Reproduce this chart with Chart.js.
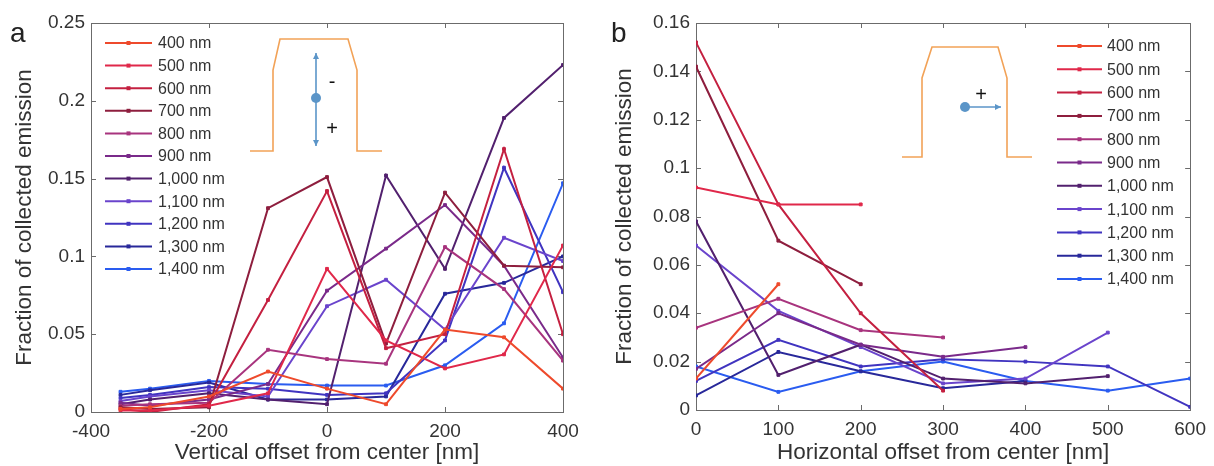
<!DOCTYPE html>
<html>
<head>
<meta charset="utf-8">
<script src="https://cdn.jsdelivr.net/npm/chart.js@4"></script>
<style>
  html, body { margin: 0; padding: 0; background: #fff; }
  #wrap { position: relative; width: 1214px; height: 466px; }
  #chartA { position: absolute; left: 0; top: 0; }
  #chartB { position: absolute; left: 600px; top: 0; }
</style>
</head>
<body>
<div id="wrap">
  <canvas id="chartA" width="600" height="466"></canvas>
  <canvas id="chartB" width="614" height="466"></canvas>
</div>
<script>
// --- DATA ---
const wavelengths = ['400 nm', '500 nm', '600 nm', '700 nm', '800 nm', '900 nm',
  '1,000 nm', '1,100 nm', '1,200 nm', '1,300 nm', '1,400 nm'];
const colors = ['#ee4a2c', '#e0284a', '#c42040', '#8e1e3e', '#a8347e', '#7a2a8a',
  '#52206e', '#6a44cc', '#4034c0', '#28289a', '#2a5cf0'];

// panel a: vertical offset
const xA = [-350, -300, -200, -100, 0, 100, 200, 300, 400];
const valuesA = [
  [0.002, 0.003, 0.010, 0.026, 0.015, 0.005, 0.053, 0.048, 0.015],
  [0.001, 0.001, 0.004, 0.012, 0.092, 0.046, 0.028, 0.037, 0.107],
  [0.002, 0.000, 0.005, 0.072, 0.142, 0.041, 0.050, 0.169, 0.050],
  [0.003, 0.002, 0.003, 0.131, 0.151, 0.044, 0.141, 0.094, 0.093],
  [0.004, 0.005, 0.006, 0.040, 0.034, 0.031, 0.106, 0.079, 0.033],
  [0.006, 0.004, 0.008, 0.018, 0.078, 0.105, 0.133, 0.094, 0.035],
  [0.005, 0.008, 0.012, 0.008, 0.005, 0.152, 0.092, 0.189, 0.223],
  [0.007, 0.010, 0.014, 0.010, 0.068, 0.085, 0.053, 0.112, 0.097],
  [0.009, 0.011, 0.016, 0.015, 0.011, 0.012, 0.046, 0.157, 0.077],
  [0.011, 0.014, 0.019, 0.008, 0.008, 0.010, 0.076, 0.083, 0.100],
  [0.013, 0.015, 0.020, 0.018, 0.017, 0.017, 0.030, 0.057, 0.147]
];
const xTicksA = [-400, -200, 0, 200, 400];
const yTicksA = [0, 0.05, 0.1, 0.15, 0.2, 0.25];

// panel b: horizontal offset (series stop at different offsets)
const xB = [0, 100, 200, 300, 400, 500, 600];
const valuesB = [
  [0.013, 0.052],
  [0.092, 0.085, 0.085],
  [0.152, 0.085, 0.040, 0.008],
  [0.142, 0.070, 0.052],
  [0.034, 0.046, 0.033, 0.030],
  [0.017, 0.040, 0.027, 0.022, 0.026],
  [0.078, 0.0145, 0.027, 0.013, 0.011, 0.014],
  [0.068, 0.041, 0.026, 0.011, 0.013, 0.032],
  [0.012, 0.029, 0.018, 0.021, 0.020, 0.018, 0.0013],
  [0.006, 0.024, 0.016, 0.009, 0.012],
  [0.018, 0.0075, 0.016, 0.020, 0.012, 0.008, 0.013]
];
const xTicksB = [0, 100, 200, 300, 400, 500, 600];
const yTicksB = [0, 0.02, 0.04, 0.06, 0.08, 0.1, 0.12, 0.14, 0.16];

const FONT = 'Liberation Sans, Arial, sans-serif';

function buildDatasets(xs, values) {
  return values.map((vals, i) => ({
    label: wavelengths[i],
    data: vals.map((v, j) => ({ x: xs[j], y: v })),
    borderColor: colors[i],
    backgroundColor: colors[i],
    borderWidth: 2,
    pointStyle: 'rect',
    pointRadius: 2,
    pointBorderWidth: 1,
    tension: 0
  }));
}

// MATLAB-like box with inward ticks
const boxPlugin = {
  id: 'box',
  beforeDatasetsDraw(chart) {
    const { ctx, chartArea: a, scales } = chart;
    ctx.save();
    ctx.strokeStyle = '#6b6b6b';
    ctx.lineWidth = 1;
    ctx.strokeRect(Math.round(a.left) + 0.5, Math.round(a.top) + 0.5,
      Math.round(a.right - a.left), Math.round(a.bottom - a.top));
    const len = 5;
    ctx.beginPath();
    scales.x.ticks.forEach(t => {
      const px = Math.round(scales.x.getPixelForValue(t.value)) + 0.5;
      ctx.moveTo(px, a.bottom); ctx.lineTo(px, a.bottom - len);
      ctx.moveTo(px, a.top); ctx.lineTo(px, a.top + len);
    });
    scales.y.ticks.forEach(t => {
      const py = Math.round(scales.y.getPixelForValue(t.value)) + 0.5;
      ctx.moveTo(a.left, py); ctx.lineTo(a.left + len, py);
      ctx.moveTo(a.right, py); ctx.lineTo(a.right - len, py);
    });
    ctx.stroke();
    ctx.restore();
  }
};

// legend inside the axes, panel letter and the little sketch
const decorPlugin = {
  id: 'decor',
  afterDraw(chart, args, opts) {
    const ctx = chart.ctx;
    ctx.save();
    // panel letter
    ctx.fillStyle = '#222';
    ctx.font = '28px ' + FONT;
    ctx.textBaseline = 'alphabetic';
    ctx.fillText(opts.letter, opts.letterX, 42);

    // legend
    const lg = opts.legend;
    ctx.font = '16px ' + FONT;
    ctx.textBaseline = 'middle';
    chart.data.datasets.forEach((ds, i) => {
      const y = lg.y + i * lg.step;
      ctx.strokeStyle = ds.borderColor;
      ctx.lineWidth = 2;
      ctx.beginPath();
      ctx.moveTo(lg.x0, y); ctx.lineTo(lg.x1, y);
      ctx.stroke();
      ctx.fillStyle = ds.borderColor;
      ctx.fillRect((lg.x0 + lg.x1) / 2 - 2, y - 2, 4, 4);
      ctx.fillStyle = '#333';
      ctx.fillText(ds.label, lg.tx, y + 1);
    });

    // waveguide sketch
    ctx.strokeStyle = '#f2a257';
    ctx.lineWidth = 1.6;
    ctx.beginPath();
    opts.shape.forEach((p, i) => i ? ctx.lineTo(p[0], p[1]) : ctx.moveTo(p[0], p[1]));
    ctx.stroke();

    const ar = opts.arrow;
    ctx.strokeStyle = '#5b95c8';
    ctx.fillStyle = '#5b95c8';
    ctx.lineWidth = 1.6;
    ctx.beginPath();
    ctx.moveTo(ar.x0, ar.y0); ctx.lineTo(ar.x1, ar.y1);
    ctx.stroke();
    const head = (tx, ty, dx, dy) => {
      ctx.beginPath();
      ctx.moveTo(tx, ty);
      ctx.lineTo(tx - dx * 6 - dy * 3, ty - dy * 6 + dx * 3);
      ctx.lineTo(tx - dx * 6 + dy * 3, ty - dy * 6 - dx * 3);
      ctx.closePath();
      ctx.fill();
    };
    const L = Math.hypot(ar.x1 - ar.x0, ar.y1 - ar.y0);
    const ux = (ar.x1 - ar.x0) / L, uy = (ar.y1 - ar.y0) / L;
    head(ar.x1, ar.y1, ux, uy);
    if (ar.both) head(ar.x0, ar.y0, -ux, -uy);
    ctx.beginPath();
    ctx.arc(ar.dx, ar.dy, 5, 0, Math.PI * 2);
    ctx.fill();

    ctx.fillStyle = '#111';
    ctx.font = '20px ' + FONT;
    ctx.textAlign = 'center';
    opts.signs.forEach(s => ctx.fillText(s[0], s[1], s[2]));
    ctx.restore();
  }
};

function makeChart(id, cfg) {
  return new Chart(document.getElementById(id), {
    type: 'line',
    data: { datasets: buildDatasets(cfg.xs, cfg.values) },
    options: {
      responsive: false,
      animation: false,
      layout: { padding: { top: cfg.top, right: cfg.padRight, left: 0, bottom: 0 } },
      plugins: {
        legend: { display: false },
        tooltip: { enabled: false },
        decor: cfg.decor
      },
      scales: {
        x: {
          type: 'linear',
          min: cfg.xTicks[0],
          max: cfg.xTicks[cfg.xTicks.length - 1],
          afterBuildTicks: s => { s.ticks = cfg.xTicks.map(v => ({ value: v })); },
          afterFit: s => { s.height = 466 - cfg.bottom; },
          grid: { display: false, drawTicks: false },
          border: { display: false },
          ticks: {
            color: '#333', padding: 8, maxRotation: 0,
            font: { family: FONT, size: 19 },
            callback: v => String(v)
          },
          title: {
            display: true, text: cfg.xTitle, color: '#333',
            font: { family: FONT, size: 22.5 }, padding: { top: 0, bottom: 0 }
          }
        },
        y: {
          type: 'linear',
          min: cfg.yTicks[0],
          max: cfg.yTicks[cfg.yTicks.length - 1],
          afterBuildTicks: s => { s.ticks = cfg.yTicks.map(v => ({ value: v })); },
          afterFit: s => { s.width = cfg.left; },
          grid: { display: false, drawTicks: false },
          border: { display: false },
          ticks: {
            color: '#333', padding: 6,
            font: { family: FONT, size: 19 },
            callback: v => String(v)
          },
          title: {
            display: true, text: 'Fraction of collected emission', color: '#333',
            font: { family: FONT, size: 22.5 }, padding: { top: 11, bottom: 0 }
          }
        }
      }
    },
    plugins: [boxPlugin, decorPlugin]
  });
}

makeChart('chartA', {
  xs: xA, values: valuesA, xTicks: xTicksA, yTicks: yTicksA,
  xTitle: 'Vertical offset from center [nm]',
  top: 23, bottom: 412, left: 91, padRight: 600 - 563,
  decor: {
    letter: 'a', letterX: 10,
    legend: { x0: 105, x1: 152, tx: 158, y: 43, step: 22.6 },
    shape: [[250, 151], [273, 151], [273, 70], [280, 39], [348, 39], [357, 70], [357, 151], [382, 151]],
    arrow: { x0: 316, y0: 53, x1: 316, y1: 146, both: true, dx: 316, dy: 98 },
    signs: [['-', 332, 82], ['+', 332, 129]]
  }
});

makeChart('chartB', {
  xs: xB, values: valuesB, xTicks: xTicksB, yTicks: yTicksB,
  xTitle: 'Horizontal offset from center [nm]',
  top: 23, bottom: 410, left: 96, padRight: 614 - 595,
  decor: {
    letter: 'b', letterX: 11,
    legend: { x0: 457, x1: 502, tx: 507, y: 46, step: 23.3 },
    shape: [[302, 157], [322, 157], [322, 78], [332, 47], [398, 47], [407, 78], [407, 157], [432, 157]],
    arrow: { x0: 365, y0: 107, x1: 401, y1: 107, both: false, dx: 365, dy: 107 },
    signs: [['+', 381, 95]]
  }
});
</script>
</body>
</html>
